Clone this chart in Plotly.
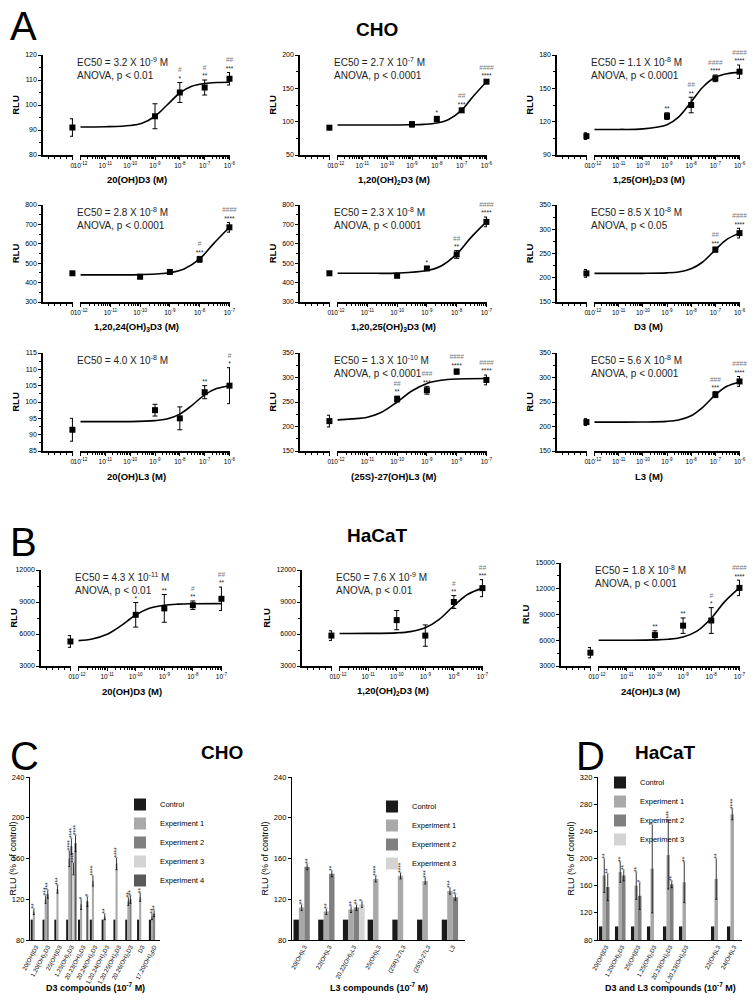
import math
import plotly.graph_objects as go

W, H = 755, 1002          # reference picture size
PAD = 8                   # page body margin around the plot div
FW, FH = W - 2 * PAD, H - 2 * PAD
FONT = "Liberation Sans"

# ---------------- A : CHO dose-response (first dose 0 = vehicle) ----------------
a1_dose = [0, 1e-9, 1e-8, 1e-7, 1e-6]
a1_mean = [91, 95.5, 105, 107, 110.5]
a1_err = [3.5, 5, 4, 3, 2.5]
a1_sig = ['', '', '#/*', '#/**', '##/***']
a1_fit_x = [1e-12, 1e-11, 1e-10, 3e-10, 1e-9, 3e-9, 1e-8, 3e-8, 1e-7, 3e-7, 1e-6]
a1_fit_y = [91.2, 91.3, 91.8, 92.7, 95.5, 99.9, 104.8, 107.5, 108.6, 109.0, 109.1]

a2_dose = [0, 1e-9, 1e-8, 1e-7, 1e-6]
a2_mean = [91, 96, 104, 117, 160]
a2_err = [3, 4, 4, 3, 3]
a2_sig = ['', '', '/*', '##/***', '####/****']
a2_fit_x = [1e-12, 1e-11, 1e-10, 1e-9, 3e-9, 1e-8, 3e-8, 1e-7, 3e-7, 1e-6]
a2_fit_y = [95, 95, 95, 95.3, 95.9, 97.9, 103.3, 117.3, 138.5, 160]

a3_dose = [0, 1e-9, 1e-8, 1e-7, 1e-6]
a3_mean = [107, 125, 135, 159, 165]
a3_err = [3, 3, 7, 3, 6]
a3_sig = ['', '/**', '##/**', '####/****', '####/****']
a3_fit_x = [1e-12, 1e-11, 1e-10, 1e-9, 3e-9, 1e-8, 3e-8, 1e-7, 3e-7, 1e-6]
a3_fit_y = [113, 113, 113.5, 117.3, 124.1, 137.8, 151, 159.9, 163.2, 164.4]

a4_dose = [0, 1e-10, 1e-9, 1e-8, 1e-7]
a4_mean = [448, 430, 455, 520, 685]
a4_err = [8, 8, 12, 15, 25]
a4_sig = ['', '', '', '#/***', '####/****']
a4_fit_x = [1e-12, 1e-11, 1e-10, 1e-9, 3e-9, 1e-8, 3e-8, 1e-7]
a4_fit_y = [440, 440, 441, 451, 470, 522, 602, 685]

a5_dose = [0, 1e-10, 1e-9, 1e-8, 1e-7]
a5_mean = [448, 435, 473, 545, 713]
a5_err = [8, 8, 10, 20, 25]
a5_sig = ['', '', '/*', '##/**', '####/****']
a5_fit_x = [1e-12, 1e-11, 1e-10, 1e-9, 3e-9, 1e-8, 3e-8, 1e-7]
a5_fit_y = [448, 448, 449, 462, 486, 547, 632, 713]

a6_dose = [0, 1e-7, 1e-6]
a6_mean = [209, 258, 292]
a6_err = [8, 5, 10]
a6_sig = ['', '##/***', '####/****']
a6_fit_x = [1e-12, 1e-11, 1e-10, 1e-9, 3e-9, 1e-8, 3e-8, 1e-7, 3e-7, 1e-6]
a6_fit_y = [209, 209, 209.1, 210, 212, 218.5, 232.5, 257.6, 279, 292]

a7_dose = [0, 1e-9, 1e-8, 1e-7, 1e-6]
a7_mean = [91.5, 97.5, 95, 103, 105]
a7_err = [3.5, 1.8, 3.5, 2, 5.5]
a7_sig = ['', '', '', '/**', '#/*']
a7_fit_x = [1e-12, 1e-11, 1e-10, 1e-9, 3e-9, 1e-8, 3e-8, 1e-7, 3e-7, 1e-6]
a7_fit_y = [94, 94, 94, 94.3, 94.8, 96.3, 98.9, 102.2, 104.1, 105]

a8_dose = [0, 1e-10, 1e-9, 1e-8, 1e-7]
a8_mean = [211, 256, 274, 312, 295]
a8_err = [12, 6, 8, 5, 10]
a8_sig = ['', '##/**', '###/***', '####/****', '####/****']
a8_fit_x = [1e-12, 3e-12, 1e-11, 3e-11, 1e-10, 3e-10, 1e-9, 3e-9, 1e-8, 1e-7]
a8_fit_y = [213.6, 215.5, 219, 229, 250, 272, 288, 294.4, 297, 298]

a9_dose = [0, 1e-7, 1e-6]
a9_mean = [209, 265, 292]
a9_err = [7, 6, 10]
a9_sig = ['', '###/***', '####/****']
a9_fit_x = [1e-12, 1e-11, 1e-10, 1e-9, 3e-9, 1e-8, 3e-8, 1e-7, 3e-7, 1e-6]
a9_fit_y = [209, 209, 209.2, 210.5, 213.4, 222.1, 239.2, 264.5, 282, 291]

# ---------------- B : HaCaT dose-response ----------------
b1_dose = [0, 1e-10, 1e-9, 1e-8, 1e-7]
b1_mean = [5300, 7800, 8400, 8700, 9300]
b1_err = [550, 1150, 1300, 400, 1100]
b1_sig = ['', '/*', '/**', '#/**', '##/**']
b1_fit_x = [1e-12, 3e-12, 1e-11, 3e-11, 1e-10, 3e-10, 1e-9, 3e-9, 1e-8, 1e-7]
b1_fit_y = [5380, 5530, 5970, 6760, 7780, 8410, 8700, 8800, 8835, 8848]

b2_dose = [0, 1e-10, 1e-9, 1e-8, 1e-7]
b2_mean = [5850, 7300, 5850, 9000, 10300]
b2_err = [450, 900, 1000, 600, 800]
b2_sig = ['', '', '', '#/**', '##/***']
b2_fit_x = [1e-12, 1e-11, 1e-10, 3e-10, 1e-9, 3e-9, 1e-8, 3e-8, 1e-7]
b2_fit_y = [6050, 6056, 6110, 6224, 6581, 7344, 8648, 9700, 10300]

b3_dose = [0, 1e-10, 1e-9, 1e-8, 1e-7]
b3_mean = [4550, 6600, 7700, 8300, 12100]
b3_err = [600, 500, 900, 1500, 900]
b3_sig = ['', '/**', '/**', '#/*', '####/****']
b3_fit_x = [1e-12, 1e-11, 1e-10, 3e-10, 1e-9, 3e-9, 1e-8, 3e-8, 1e-7]
b3_fit_y = [6000, 6004, 6040, 6118, 6379, 7029, 8571, 10500, 12100]

# ---------------- C / D : % of control bars ----------------
exp_names = ['Control', 'Experiment 1', 'Experiment 2', 'Experiment 3', 'Experiment 4']

c1_cats = ['20(OH)D3', '1,20(OH)<sub>2</sub>D3', '25(OH)D3', '1,25(OH)<sub>2</sub>D3',
           '20,23(OH)<sub>2</sub>D3', '20,24(OH)<sub>2</sub>D3', '1,20,24(OH)<sub>3</sub>D3',
           '1,20,25(OH)<sub>3</sub>D3', '20,26(OH)<sub>2</sub>D3', 'D3', '17,20(OH)<sub>2</sub>pD']
c1_ctrl = [100, 100, 100, 100, 100, 100, 100, 100, 100, 100, 100]
c1_exp1 = [108, 120, 130, 160, 115, 138, 103, 155, 118, 122, 103]
c1_exp2 = [None, 125, None, 172, None, None, None, None, 120, None, 106]
c1_exp3 = [None, None, None, 150, None, None, None, None, None, None, None]
c1_exp4 = [None, None, None, 175, 118, None, None, None, None, None, None]
c1_err1 = [3, 4, 4, 8, 5, 5, 3, 6, 4, 4, 3]
c1_err2 = [None, 4, None, 8, None, None, None, None, 4, None, 3]
c1_err3 = [None, None, None, 6, None, None, None, None, None, None, None]
c1_err4 = [None, None, None, 8, 5, None, None, None, None, None, None]
c1_sig1 = ['**', '***', '***', '****', '*', '****', '**', '****', '**', '**', '**']
c1_sig2 = ['', '***', '', '****', '', '', '', '', '**', '', '**']
c1_sig3 = ['', '', '', '****', '', '', '', '', '', '', '']
c1_sig4 = ['', '', '', '****', '*', '', '', '', '', '', '']

c2_cats = ['20(OH)L3', '22(OH)L3', '20,22(OH)<sub>2</sub>L3', '25(OH)L3',
           '(25R)-27L3', '(25S)-27L3', 'L3']
c2_ctrl = [100, 100, 100, 100, 100, 100, 100]
c2_exp1 = [112, 108, 110, 140, 143, 138, 128]
c2_exp2 = [152, 145, 112, None, None, None, 122]
c2_exp3 = [None, None, 115, None, None, None, None]
c2_err1 = [3, 3, 3, 3, 3, 3, 3]
c2_err2 = [3, 3, 3, None, None, None, 3]
c2_err3 = [None, None, 3, None, None, None, None]
c2_sig1 = ['**', '**', '**', '****', '****', '***', '***']
c2_sig2 = ['**', '**', '**', '', '', '', '**']
c2_sig3 = ['', '', '*', '', '', '', '']

d_cats = ['20(OH)D3', '1,20(OH)<sub>2</sub>D3', '25(OH)D3', '1,25(OH)<sub>2</sub>D3',
          '20,23(OH)<sub>2</sub>D3', '1,20,23(OH)<sub>3</sub>D3', ' ', '22(OH)L3', '24(OH)L3']
d_ctrl = [100, 100, 100, 100, 100, 100, None, 100, 100]
d_exp1 = [175, 180, 160, 185, 205, 165, None, 170, 265]
d_exp2 = [158, 175, 145, None, 162, None, None, None, None]
d_exp3 = [None, None, None, None, None, None, None, None, None]
d_err1 = [25, 15, 20, 65, 50, 30, None, 30, 8]
d_err2 = [20, 8, 20, None, 5, None, None, None, None]
d_err3 = [None, None, None, None, None, None, None, None, None]
d_sig1 = ['**', '**', '**', '*', '****', '**', '', '**', '****']
d_sig2 = ['**', '**', '*', '', '**', '', '', '', '']
d_sig3 = ['', '', '', '', '', '', '', '', '']

bar_colors = ['#1a1a1a', '#a9a9a9', '#808080', '#d4d4d4', '#5a5a5a']

fig = go.Figure()
lay = {}
count = [0]


def px(v):
    # reference pixel -> paper fraction (figure sits PAD px inside the page)
    return (v - PAD) / FW


def py(v):
    return 1 - (v - PAD) / FH


def note(text, x, y, size, xanchor='center', yanchor='middle', **kw):
    fig.add_annotation(x=px(x), y=py(y), xref='paper', yref='paper', text=text,
                       showarrow=False, xanchor=xanchor, yanchor=yanchor,
                       font=dict(size=size, color=kw.pop('color', 'black')), **kw)


def sig_text(s):
    h, st = s.split('/')
    return (f"<span style='color:#7a7a7a'>{h}</span><br>" if h else '') + st


LINE = dict(showline=True, linecolor='black', ticks='outside', tickcolor='black',
            showgrid=False, zeroline=False, automargin=False)


def dose_panel(dose, mean, err, sig, fit_x, fit_y, left, right, top, bottom,
               yr, ydt, xmax, xtitle, ec50, anova, zw=30, gap=7):
    k = count[0] + 1
    count[0] += 2
    xz, xl, yy = f'x{k}', f'x{k + 1}', f'y{k}'
    zx = [d for d in dose if d == 0]
    zm = [m for d, m in zip(dose, mean) if d == 0]
    ze = [e for d, e in zip(dose, err) if d == 0]
    lx = [d for d in dose if d > 0]
    lm = [m for d, m in zip(dose, mean) if d > 0]
    le = [e for d, e in zip(dose, err) if d > 0]
    sx = [d for d, s in zip(dose, sig) if d > 0 and s]
    sy = [m + e for d, m, e, s in zip(dose, mean, err, sig) if d > 0 and s]
    st = [sig_text(s) for d, s in zip(dose, sig) if d > 0 and s]
    mk = dict(symbol='square', size=6, color='black')
    eb = dict(color='black', thickness=1, width=2.5)
    fig.add_trace(go.Scatter(x=fit_x, y=fit_y, mode='lines', xaxis=xl, yaxis=yy,
                             line=dict(color='black', width=1.6, shape='spline'),
                             showlegend=False, hoverinfo='skip'))
    fig.add_trace(go.Scatter(x=zx, y=zm, mode='markers', xaxis=xz, yaxis=yy, marker=mk,
                             error_y=dict(type='data', array=ze, **eb), cliponaxis=False,
                             showlegend=False))
    fig.add_trace(go.Scatter(x=lx, y=lm, mode='markers', xaxis=xl, yaxis=yy, marker=mk,
                             error_y=dict(type='data', array=le, **eb), cliponaxis=False,
                             showlegend=False))
    fig.add_trace(go.Scatter(x=sx, y=sy, mode='text', text=st, xaxis=xl, yaxis=yy,
                             textposition='top center', cliponaxis=False,
                             textfont=dict(size=6.5, color='#222'), showlegend=False,
                             hoverinfo='skip'))
    decades = list(range(-12, int(round(math.log10(xmax))) + 1))
    lay[f'xaxis{k}'] = dict(domain=[px(left), px(left + zw)], anchor=yy, range=[-1, 0.02],
                            tickvals=[0], ticktext=['0'], ticklen=3, linewidth=1.5, tickwidth=1.2,
                            tickfont=dict(size=6.5, color='black'),
                            minor=dict(ticks='outside', ticklen=2, tickvals=[-0.8, -0.6, -0.4, -0.2],
                                       tickcolor='black'), **LINE)
    lay[f'xaxis{k + 1}'] = dict(domain=[px(left + zw + gap), px(right)], anchor=yy, type='log',
                                range=[-12.02, decades[-1] + 0.02], linewidth=1.5, tickwidth=1.2,
                                tickvals=[10.0 ** d for d in decades],
                                ticktext=[f'10<sup>{d}</sup>' for d in decades], ticklen=3,
                                tickfont=dict(size=6.5, color='black'),
                                minor=dict(ticks='outside', ticklen=2, tickcolor='black',
                                           tickvals=[m * 10.0 ** d for d in decades[:-1]
                                                     for m in range(2, 10)]), **LINE)
    lay[f'yaxis{k}'] = dict(domain=[py(bottom), py(top)], anchor=xz, range=yr, dtick=ydt,
                            tick0=yr[0], ticklen=3, tickformat='d', linewidth=1.5, tickwidth=1.2,
                            tickfont=dict(size=7, color='black'),
                            title=dict(text='<b>RLU</b>', font=dict(size=9.5, color='black'),
                                       standoff=4),
                            minor=dict(ticks='outside', ticklen=2, dtick=ydt / 2, tickcolor='black'),
                            **LINE)
    note(f'<b>{xtitle}</b>', (left + right) / 2, bottom + 25, 9.5)
    txt = f'EC50 = {ec50[0]} X 10<sup>{ec50[1]}</sup> M'
    if anova:
        txt += f'<br>ANOVA, p &lt; {anova}'
    note(txt, left + 32, top - 1, 10, xanchor='left', yanchor='top', align='left', color='#222')


# row 1
dose_panel(a1_dose, a1_mean, a1_err, a1_sig, a1_fit_x, a1_fit_y, 43, 230, 55, 155,
           [80, 120], 10, 1e-6, '20(OH)D3 (M)', ('3.2', '-9'), '0.01')
dose_panel(a2_dose, a2_mean, a2_err, a2_sig, a2_fit_x, a2_fit_y, 300, 487, 55, 155,
           [50, 200], 50, 1e-6, '1,20(OH)<sub>2</sub>D3 (M)', ('2.7', '-7'), '0.0001')
dose_panel(a3_dose, a3_mean, a3_err, a3_sig, a3_fit_x, a3_fit_y, 557, 740, 55, 155,
           [90, 180], 30, 1e-6, '1,25(OH)<sub>2</sub>D3 (M)', ('1.1', '-8'), '0.0001')
# row 2
dose_panel(a4_dose, a4_mean, a4_err, a4_sig, a4_fit_x, a4_fit_y, 43, 230, 205, 302,
           [300, 800], 100, 1e-7, '1,20,24(OH)<sub>3</sub>D3 (M)', ('2.8', '-8'), '0.0001')
dose_panel(a5_dose, a5_mean, a5_err, a5_sig, a5_fit_x, a5_fit_y, 300, 487, 205, 302,
           [300, 800], 100, 1e-7, '1,20,25(OH)<sub>3</sub>D3 (M)', ('2.3', '-8'), '0.0001')
dose_panel(a6_dose, a6_mean, a6_err, a6_sig, a6_fit_x, a6_fit_y, 557, 740, 205, 302,
           [150, 350], 50, 1e-6, 'D3 (M)', ('8.5', '-8'), '0.05')
# row 3
dose_panel(a7_dose, a7_mean, a7_err, a7_sig, a7_fit_x, a7_fit_y, 43, 230, 353, 451,
           [85, 115], 5, 1e-6, '20(OH)L3 (M)', ('4.0', '-8'), None)
dose_panel(a8_dose, a8_mean, a8_err, a8_sig, a8_fit_x, a8_fit_y, 300, 487, 353, 451,
           [150, 350], 50, 1e-7, '(25S)-27(OH)L3 (M)', ('1.3', '-10'), '0.0001')
dose_panel(a9_dose, a9_mean, a9_err, a9_sig, a9_fit_x, a9_fit_y, 557, 740, 353, 451,
           [150, 350], 50, 1e-6, 'L3 (M)', ('5.6', '-8'), '0.0001')
# B
dose_panel(b1_dose, b1_mean, b1_err, b1_sig, b1_fit_x, b1_fit_y, 41, 222, 570, 666,
           [3000, 12000], 3000, 1e-7, '20(OH)D3 (M)', ('4.3', '-11'), '0.01')
dose_panel(b2_dose, b2_mean, b2_err, b2_sig, b2_fit_x, b2_fit_y, 302, 483, 570, 666,
           [3000, 12000], 3000, 1e-7, '1,20(OH)<sub>2</sub>D3 (M)', ('7.6', '-9'), '0.01')
dose_panel(b3_dose, b3_mean, b3_err, b3_sig, b3_fit_x, b3_fit_y, 561, 740, 563, 666,
           [3000, 15000], 3000, 1e-7, '24(OH)L3 (M)', ('1.8', '-8'), '0.001')


def bar_panel(cats, ctrl, exps, errs, sigs, left, right, top, bottom, yr, legend_id,
              legend_xy, xtitle):
    k = count[0] + 1
    count[0] += 1
    xa, ya = f'x{k}', f'y{k}'
    fig.add_trace(go.Bar(x=cats, y=ctrl, name=exp_names[0], marker_color=bar_colors[0],
                         offsetgroup='0', xaxis=xa, yaxis=ya, legend=legend_id,
                         marker_line_width=0))
    for i, (vals, er, sg) in enumerate(zip(exps, errs, sigs), start=1):
        fig.add_trace(go.Bar(x=cats, y=vals, name=exp_names[i], marker_color=bar_colors[i],
                             marker_line_width=0, offsetgroup=str(i), xaxis=xa, yaxis=ya,
                             legend=legend_id,
                             error_y=dict(type='data', array=er, color='black',
                                          thickness=0.8, width=1)))
        keep = [v is not None and bool(s) for v, s in zip(vals, sg)]
        fig.add_trace(go.Bar(x=[c for c, q in zip(cats, keep) if q],
                             y=[0.01 for q in keep if q],
                             base=[v + e for v, e, q in zip(vals, er, keep) if q],
                             text=[s for s, q in zip(sg, keep) if q],
                             textposition='outside', textangle=-90,
                             constraintext='none', cliponaxis=False,
                             outsidetextfont=dict(size=6.5, color='#222'),
                             marker_color='rgba(0,0,0,0)', offsetgroup=str(i),
                             xaxis=xa, yaxis=ya, showlegend=False, hoverinfo='skip'))
    lay[f'xaxis{k}'] = dict(domain=[px(left), px(right)], anchor=ya, type='category',
                            categoryorder='array', categoryarray=cats,
                            tickangle=-62, ticklen=0, linewidth=1.3,
                            tickfont=dict(size=6, color='black'), **LINE)
    lay[f'yaxis{k}'] = dict(domain=[py(bottom), py(top)], anchor=xa, range=yr, dtick=40,
                            ticklen=3, linewidth=1.3, tickwidth=1,
                            tickfont=dict(size=7.5, color='black'),
                            title=dict(text='RLU (% of control)', font=dict(size=9, color='black'),
                                       standoff=3), **LINE)
    lay[legend_id] = dict(x=px(legend_xy[0]), y=py(legend_xy[1]), xanchor='left', yanchor='top',
                          font=dict(size=7.5, color='black'), bgcolor='rgba(0,0,0,0)',
                          itemwidth=30, tracegroupgap=0)
    note(f'<b>{xtitle}</b>', (left + right) / 2, 987, 9)


bar_panel(c1_cats, c1_ctrl, [c1_exp1, c1_exp2, c1_exp3, c1_exp4],
          [c1_err1, c1_err2, c1_err3, c1_err4], [c1_sig1, c1_sig2, c1_sig3, c1_sig4],
          30, 160, 777, 940, [80, 240], 'legend', (120, 790), 'D3 compounds (10<sup>-7</sup> M)')
bar_panel(c2_cats, c2_ctrl, [c2_exp1, c2_exp2, c2_exp3], [c2_err1, c2_err2, c2_err3],
          [c2_sig1, c2_sig2, c2_sig3], 292, 465, 777, 940, [80, 240], 'legend2', (372, 792),
          'L3 compounds (10<sup>-7</sup> M)')
bar_panel(d_cats, d_ctrl, [d_exp1, d_exp2, d_exp3], [d_err1, d_err2, d_err3],
          [d_sig1, d_sig2, d_sig3], 598, 742, 777, 940, [80, 320], 'legend3', (600, 768),
          'D3 and L3 compounds (10<sup>-7</sup> M)')

# panel letters and titles
for letter, x, y in [('A', 8, 2), ('B', 8, 518), ('C', 8, 732), ('D', 574, 732)]:
    note(letter, x, y, 40, xanchor='left', yanchor='top')
for title, x, y in [('CHO', 377, 30), ('HaCaT', 377, 535), ('CHO', 222, 752), ('HaCaT', 665, 752)]:
    note(f'<b>{title}</b>', x, y, 19)

fig.update_layout(width=FW, height=FH, margin=dict(l=0, r=0, t=0, b=0),
                  plot_bgcolor='white', paper_bgcolor='white',
                  font=dict(family=FONT, color='black'),
                  barmode='group', bargap=0.12, bargroupgap=0, **lay)

fig.write_html("out.html")
